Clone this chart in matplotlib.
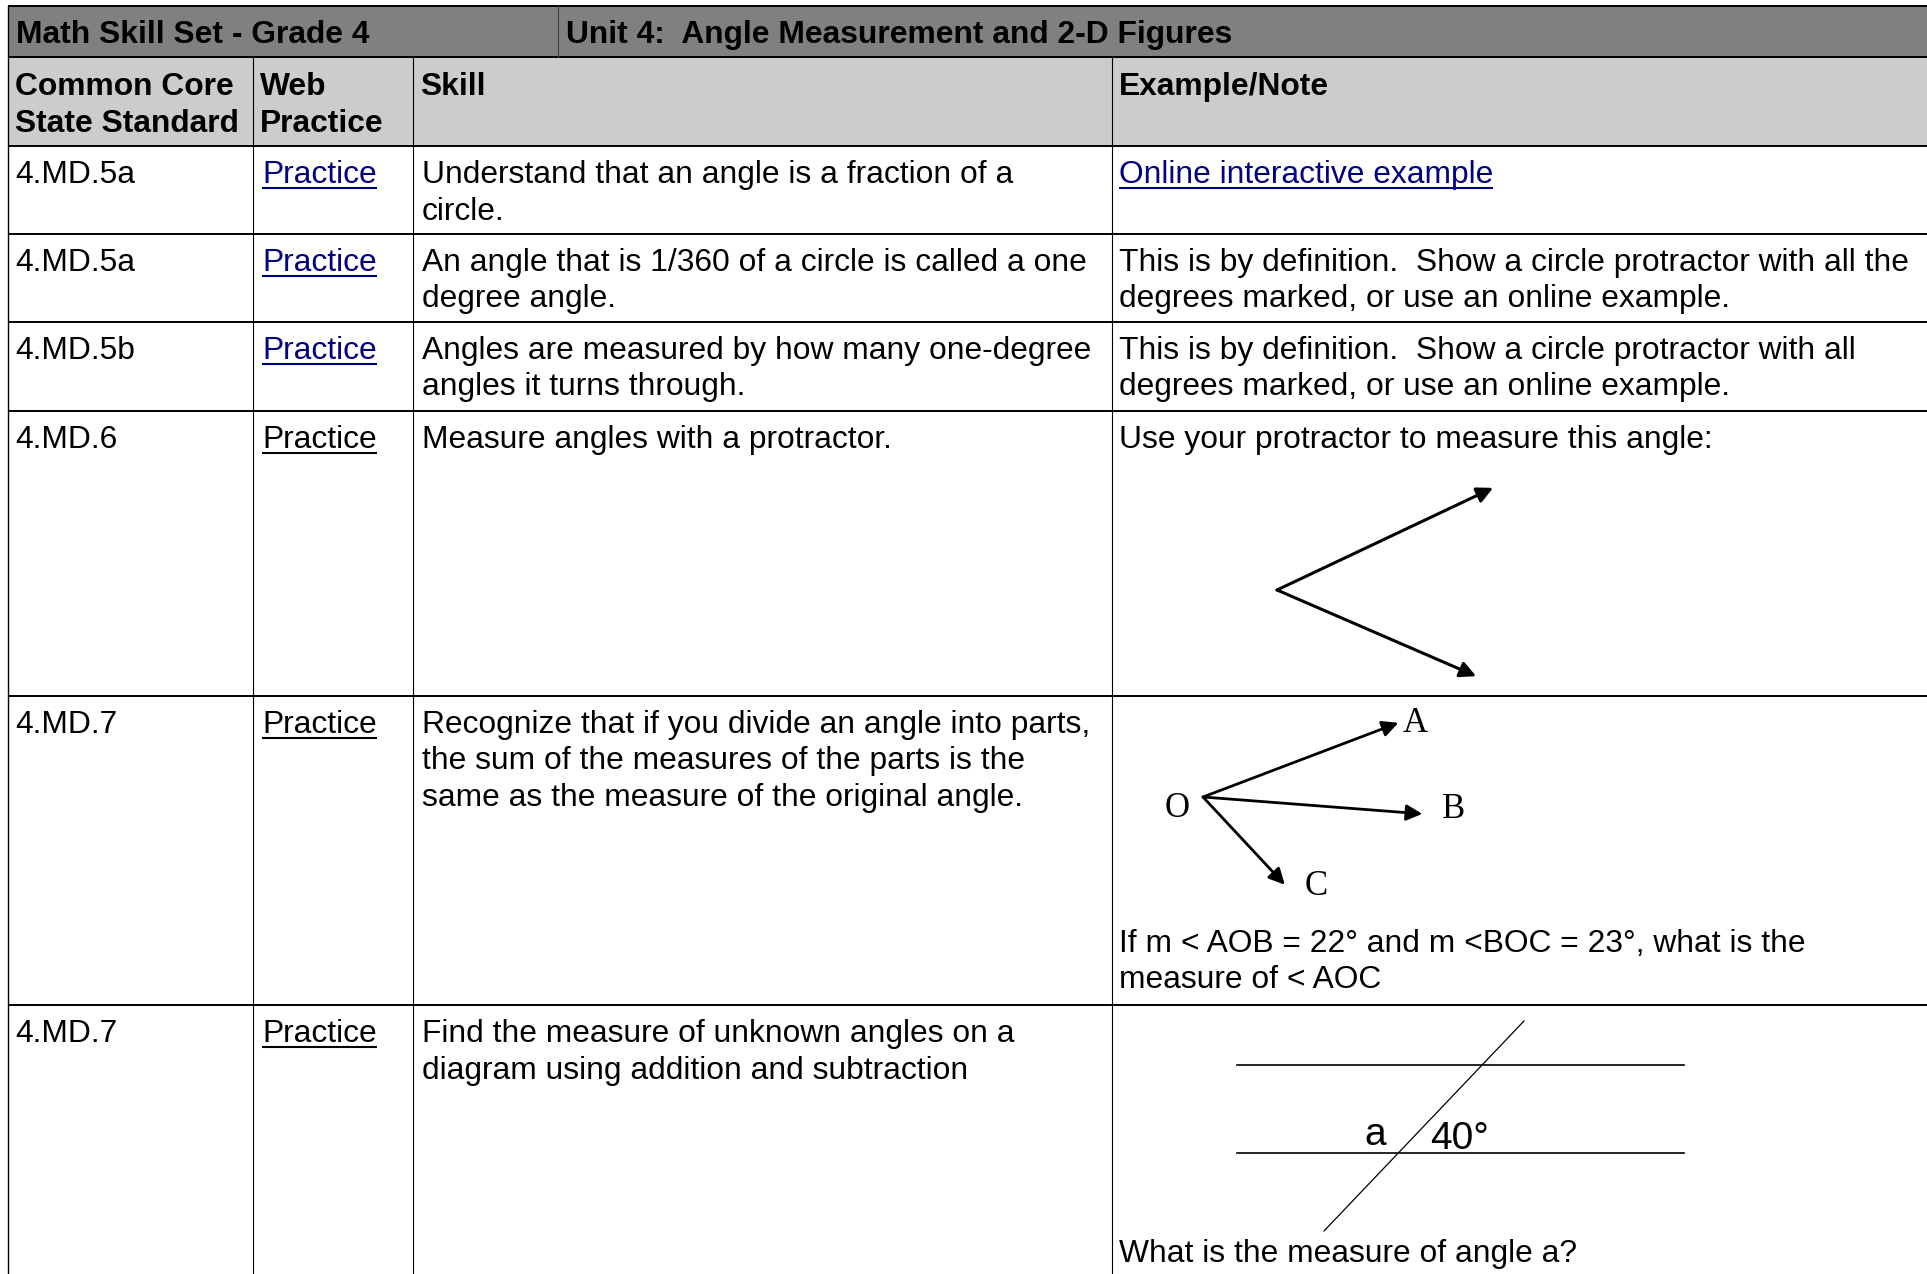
import matplotlib
matplotlib.use("Agg")
import matplotlib.pyplot as plt
from matplotlib.patches import Rectangle
import numpy as np

# --- table content ---
banner_left = "Math Skill Set - Grade 4"
banner_right = "Unit 4:  Angle Measurement and 2-D Figures"
headers = [["Common Core", "State Standard"], ["Web", "Practice"], ["Skill"], ["Example/Note"]]

standards = ["4.MD.5a", "4.MD.5a", "4.MD.5b", "4.MD.6", "4.MD.7", "4.MD.7"]
practice_is_link = [True, True, True, False, False, False]
skills = [
    ["Understand that an angle is a fraction of a", "circle."],
    ["An angle that is 1/360 of a circle is called a one", "degree angle."],
    ["Angles are measured by how many one-degree", "angles it turns through."],
    ["Measure angles with a protractor."],
    ["Recognize that if you divide an angle into parts,",
     "the sum of the measures of the parts is the",
     "same as the measure of the original angle."],
    ["Find the measure of unknown angles on a", "diagram using addition and subtraction"],
]
notes = [
    ["Online interactive example"],
    ["This is by definition.  Show a circle protractor with all the",
     "degrees marked, or use an online example."],
    ["This is by definition.  Show a circle protractor with all",
     "degrees marked, or use an online example."],
    ["Use your protractor to measure this angle:"],
    [],
    [],
]
note_is_link = [True, False, False, False, False, False]
aoc_question = ["If m < AOB = 22\u00b0 and m <BOC = 23\u00b0, what is the", "measure of < AOC"]
parallel_question = ["What is the measure of angle a?"]

# diagram data: ray directions (degrees) and lengths (px)
angle_ray_deg = [25.3, -23.4]
angle_ray_len = [239, 217]
aoc_names = ["A", "B", "C"]
aoc_ray_deg = [20.8, -4.4, -47.0]
aoc_ray_len = [209, 220, 120]
given_angle = "40\u00b0"
unknown_angle = "a"

# --- layout (pixels) ---
W, H = 1927, 1274
col_x = [8, 253, 413, 1112, W]
row_y = [57, 146, 234, 322, 411, 696, 1005, H]
top = 6
banner_split = 558
pad_x = 7
first_base = 37
line_gap = 36.5

SANS = "Liberation Sans"
SERIF = "Liberation Serif"
FS = 22.9
NAVY = "#000080"

fig = plt.figure(figsize=(W / 100, H / 100), dpi=100)
ax = fig.add_axes([0, 0, 1, 1])
ax.set_xlim(0, W)
ax.set_ylim(H, 0)
ax.axis("off")

# fills
ax.add_patch(Rectangle((col_x[0], top), W - col_x[0], row_y[0] - top, color="#808080", lw=0))
ax.add_patch(Rectangle((col_x[0], row_y[0]), W - col_x[0], row_y[1] - row_y[0], color="#cccccc", lw=0))

# grid lines
for y in [top] + row_y[:-1]:
    ax.plot([col_x[0], W], [y, y], color="black", lw=1.4, solid_capstyle="butt")
ax.plot([col_x[0], col_x[0]], [top, H], color="black", lw=1.0)
ax.plot([banner_split, banner_split], [top, row_y[0]], color="#444444", lw=0.8)
for x in col_x[1:4]:
    ax.plot([x, x], [row_y[0], H], color="black", lw=0.8)

links = []


def put(x, y, s, bold=False, color="black", size=FS, family=SANS, link=False):
    t = ax.text(x, y, s, fontsize=size, family=family, color=color,
                fontweight="bold" if bold else "normal", va="baseline", ha="left")
    if link:
        links.append((t, color))
    return t


def put_lines(x, y0, lines, **kw):
    for i, s in enumerate(lines):
        put(x, y0 + i * line_gap, s, **kw)


# banner
put(col_x[0] + pad_x + 1, top + 37, banner_left, bold=True)
put(banner_split + pad_x + 1, top + 37, banner_right, bold=True)

# header row
for j, h in enumerate(headers):
    put_lines(col_x[j] + pad_x, row_y[0] + first_base + 1, h, bold=True)

# body rows
for i in range(len(standards)):
    yb = row_y[i + 1] + first_base
    put(col_x[0] + pad_x, yb, standards[i])
    put(col_x[1] + pad_x + 2, yb, "Practice", color=NAVY if practice_is_link[i] else "black", link=True)
    put_lines(col_x[2] + pad_x + 2, yb, skills[i])
    if notes[i]:
        put_lines(col_x[3] + pad_x, yb, notes[i],
                  color=NAVY if note_is_link[i] else "black", link=note_is_link[i])


def arrow(x0, y0, deg, length, lw=2.0):
    a = np.radians(deg)
    tip = (x0 + length * np.cos(a), y0 - length * np.sin(a))
    ax.annotate("", xy=tip, xytext=(x0, y0),
                arrowprops=dict(arrowstyle="-|>", color="black", lw=lw,
                                mutation_scale=24, shrinkA=0, shrinkB=0))
    return tip


# row 4: angle to measure
vx, vy = 1277, 590
for d, L in zip(angle_ray_deg, angle_ray_len):
    arrow(vx, vy, d, L, lw=2.2)

# row 5: rays OA, OB, OC
ox, oy = 1203, 797
label_off = [(4, 9), (20, 4), (20, 10)]
for name, d, L, (dx, dy) in zip(aoc_names, aoc_ray_deg, aoc_ray_len, label_off):
    tx, ty = arrow(ox, oy, d, L, lw=2.0)
    put(tx + dx, ty + dy, name, size=25, family=SERIF)
put(ox - 38, oy + 20, "O", size=25, family=SERIF)
put_lines(col_x[3] + pad_x, 952, aoc_question)

# row 6: parallel lines cut by a transversal
for y in [1065, 1153]:
    ax.plot([1237, 1684], [y, y], color="black", lw=1.2)
ax.plot([1324, 1524], [1231, 1021], color="black", lw=0.9)
put(1364, 1145, unknown_angle, size=28)
put(1430, 1149, given_angle, size=28)
put_lines(col_x[3] + pad_x, 1262, parallel_question)

# underline links
fig.canvas.draw()
inv = ax.transData.inverted()
for t, c in links:
    bb = t.get_window_extent()
    (x0, _), (x1, _) = inv.transform([[bb.x0, bb.y0], [bb.x1, bb.y0]])
    yb = t.get_position()[1] + 5
    ax.plot([x0, x1], [yb, yb], color=c, lw=1.5, solid_capstyle="butt")

fig.savefig("out.png", dpi=100)
